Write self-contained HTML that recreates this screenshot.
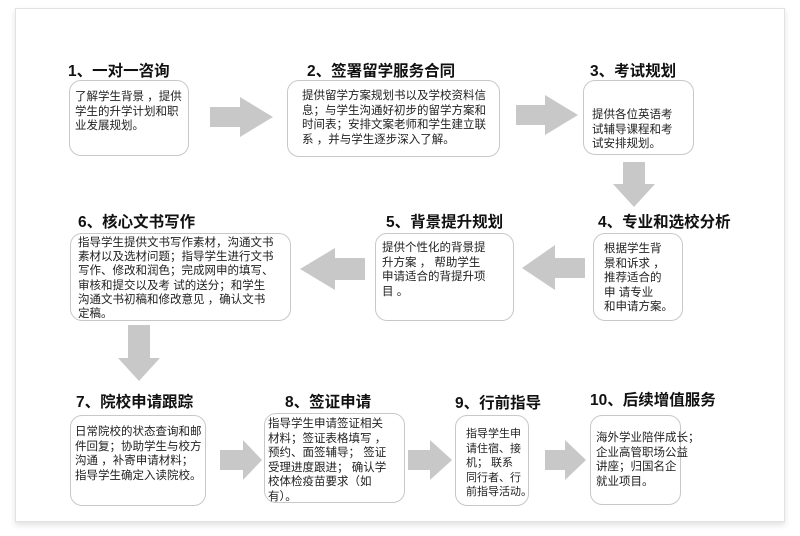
<!DOCTYPE html>
<html><head><meta charset="utf-8"><style>
body{margin:0;width:800px;height:536px;background:#fff;position:relative;overflow:hidden;font-family:"Liberation Sans","Noto Sans CJK SC",sans-serif;color:#222}
.frame{position:absolute;left:15px;top:8px;width:768px;height:512px;border:1px solid #e2e2e2;box-shadow:0 3px 6px rgba(0,0,0,.12);background:#fff}
.t{position:absolute;font-weight:bold;font-size:15.5px;white-space:nowrap;color:#111}
.b{position:absolute;border:1.5px solid #c8c8c8;border-radius:12px;box-sizing:border-box;font-size:11.5px;line-height:14.5px;padding:5px 6px;color:#222;white-space:nowrap}
svg{position:absolute;left:0;top:0}
</style></head><body>
<div class="frame"></div>
<svg width="800" height="536">
<g fill="#c8c8c8">
<polygon points="210,107 240,107 240,97 273,117 240,137 240,127 210,127"/>
<polygon points="516,105 545,105 545,95 578,115 545,135 545,125 516,125"/>
<polygon points="623,162 645,162 645,184 655,184 634,207 613,184 623,184"/>
<polygon points="585,258 555,258 555,245 522,268 555,290 555,278 585,278"/>
<polygon points="365,258 335,258 335,248 300,269 335,290 335,280 365,280"/>
<polygon points="128,325 150,325 150,358 160,358 139,381 118,358 128,358"/>
<polygon points="220,450 243,450 243,440 262,460 243,480 243,470 220,470"/>
<polygon points="408,450 430,450 430,440 452,460 430,480 430,470 408,470"/>
<polygon points="545,450 565,450 565,440 586,460 565,480 565,470 545,470"/>
</g>
</svg>
<div class="t" style="left:68px;top:59px">1、一对一咨询</div>
<div class="t" style="left:307px;top:59px">2、签署留学服务合同</div>
<div class="t" style="left:590px;top:59px">3、考试规划</div>
<div class="t" style="left:598px;top:210px">4、专业和选校分析</div>
<div class="t" style="left:386px;top:210px">5、背景提升规划</div>
<div class="t" style="left:78px;top:210px">6、核心文书写作</div>
<div class="t" style="left:76px;top:390px">7、院校申请跟踪</div>
<div class="t" style="left:285px;top:390px">8、签证申请</div>
<div class="t" style="left:455px;top:391px">9、行前指导</div>
<div class="t" style="left:590px;top:388px">10、后续增值服务</div>

<div class="b" style="left:69px;top:80px;width:120px;height:76px;padding:9px 4px 0 5px">了解学生背景 ，提供<br>学生的升学计划和职<br>业发展规划。</div>
<div class="b" style="left:287px;top:80px;width:213px;height:77px;padding:8px 4px 0 14px">提供留学方案规划书以及学校资料信<br>息；与学生沟通好初步的留学方案和<br>时间表；安排文案老师和学生建立联<br>系 ，并与学生逐步深入了解。</div>
<div class="b" style="left:583px;top:80px;width:111px;height:75px;padding:27px 4px 0 8px">提供各位英语考<br>试辅导课程和考<br>试安排规划。</div>
<div class="b" style="left:593px;top:233px;width:90px;height:88px;padding:8px 4px 0 10px">根据学生背<br>景和诉求 ，<br>推荐适合的<br>申 请专业<br>和申请方案。</div>
<div class="b" style="left:375px;top:233px;width:139px;height:88px;padding:7px 4px 0 6px">提供个性化的背景提<br>升方案 ， 帮助学生<br>申请适合的背提升项<br>目 。</div>
<div class="b" style="left:70px;top:233px;width:221px;height:88px;padding:2px 4px 0 7px;line-height:14.2px">指导学生提供文书写作素材，沟通文书<br>素材以及选材问题；指导学生进行文书<br>写作、修改和润色；完成网申的填写、<br>审核和提交以及考 试的送分；和学生<br>沟通文书初稿和修改意见 ，确认文书<br>定稿。</div>
<div class="b" style="left:70px;top:415px;width:136px;height:91px;padding:9px 4px 0 4px">日常院校的状态查询和邮<br>件回复；协助学生与校方<br>沟通 ，补寄申请材料；<br>指导学生确定入读院校。</div>
<div class="b" style="left:264px;top:413px;width:141px;height:90px;padding:3px 4px 0 3px">指导学生申请签证相关<br>材料；签证表格填写 ，<br>预约、面签辅导； 签证<br>受理进度跟进； 确认学<br>校体检疫苗要求（如<br>有）。</div>
<div class="b" style="left:455px;top:415px;width:74px;height:91px;padding:11px 2px 0 10px;font-size:11px">指导学生申<br>请住宿、接<br>机； 联系<br>同行者、行<br>前指导活动。</div>
<div class="b" style="left:590px;top:415px;width:91px;height:90px;padding:15px 2px 0 5px">海外学业陪伴成长；<br>企业高管职场公益<br>讲座；归国名企<br>就业项目。</div>
</body></html>
